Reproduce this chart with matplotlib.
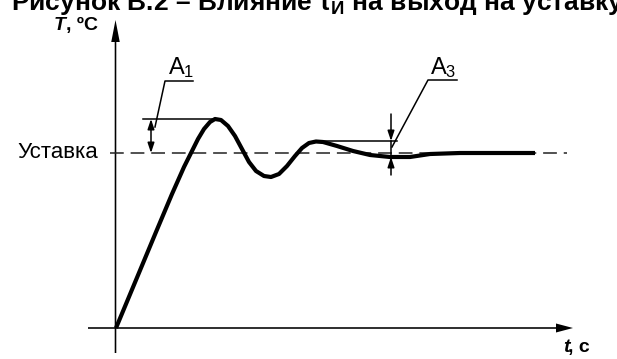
import matplotlib
matplotlib.use('Agg')
import matplotlib.pyplot as plt

plt.rcParams['font.family'] = ['Liberation Sans', 'DejaVu Sans']
plt.rcParams['mathtext.fontset'] = 'custom'
plt.rcParams['mathtext.rm'] = 'Liberation Sans'
plt.rcParams['mathtext.bf'] = 'Liberation Sans:bold'
plt.rcParams['mathtext.it'] = 'Liberation Sans:italic'

# transient response (time, temperature in arbitrary units)
t_vals = [0.0, 2.0, 4.0, 5.6, 6.8, 7.6, 8.2, 8.8, 9.4, 9.9, 10.5, 11.2,
          11.9, 12.6, 13.3, 14.0, 14.8, 15.5, 16.3, 17.1, 17.9, 18.6, 19.3,
          20.0, 20.7, 22.1, 23.7, 25.4, 27.4, 29.4, 31.4, 34.4, 41.9]
T_vals = [0.0, 4.8, 9.6, 13.4, 16.1, 17.7, 18.9, 19.9, 20.6, 20.9, 20.8, 20.2,
          19.2, 17.9, 16.6, 15.7, 15.2, 15.1, 15.4, 16.2, 17.2, 18.0, 18.5,
          18.65, 18.6, 18.2, 17.7, 17.3, 17.1, 17.1, 17.4, 17.5, 17.5]

setpoint = 17.5
peak1 = 20.9
peak2 = 18.7
dip2 = 17.1
t_peak1 = 9.9
t_peak2 = 20.0

fig = plt.figure(figsize=(6.17, 3.59), dpi=100)
ax = fig.add_axes([0, 0, 1, 1])
ax.set_xlim(-11.6, 50.1)
ax.set_ylim(-3.1, 32.8)
ax.axis('off')

# axes with arrows
ax.arrow(-0.05, -2.5, 0, 33.3, width=0.16, head_width=0.85, head_length=2.2,
         length_includes_head=True, color='black', lw=0)
ax.arrow(-2.8, 0, 48.5, 0, width=0.16, head_width=0.9, head_length=1.7,
         length_includes_head=True, color='black', lw=0)

# setpoint
ax.plot([-0.6, 45.1], [setpoint, setpoint], color='#222222', lw=1.1,
        linestyle=(0, (9, 4.5)))
ax.text(-1.8, setpoint, 'Уставка', fontsize=16, ha='right', va='center')

# curve
ax.plot(t_vals, T_vals, color='black', lw=3.0, solid_capstyle='butt',
        solid_joinstyle='round')

# A1 dimension
ax.plot([2.7, t_peak1], [peak1, peak1], color='black', lw=1.1)
ax.annotate('', xy=(3.5, peak1), xytext=(3.5, setpoint),
            arrowprops=dict(arrowstyle='<|-|>,head_length=0.6,head_width=0.2',
                            color='black', lw=1.1, shrinkA=0, shrinkB=0))
ax.plot([3.9, 4.9, 7.7], [20.1, 24.7, 24.7], color='black', lw=1.1)
ax.text(5.2, 25.4, 'A$_1$', fontsize=17, ha='left', va='baseline')

# A3 dimension
ax.plot([t_peak2, 28.1], [peak2, peak2], color='black', lw=1.1)
ax.annotate('', xy=(27.5, peak2), xytext=(27.5, 21.4),
            arrowprops=dict(arrowstyle='-|>,head_length=0.6,head_width=0.2',
                            color='black', lw=1.1, shrinkA=0, shrinkB=0))
ax.annotate('', xy=(27.5, dip2), xytext=(27.5, 15.3),
            arrowprops=dict(arrowstyle='-|>,head_length=0.6,head_width=0.2',
                            color='black', lw=1.1, shrinkA=0, shrinkB=0))
ax.plot([27.5, 27.5], [dip2, peak2], color='black', lw=1.1)
ax.plot([27.6, 31.2, 34.1], [18.1, 24.8, 24.8], color='black', lw=1.1)
ax.text(31.4, 25.4, 'A$_3$', fontsize=17, ha='left', va='baseline')

# axis labels
ax.text(-6.2, 29.8, 'T', fontsize=14, fontweight='bold', style='italic',
        ha='left', va='baseline')
ax.text(-4.95, 29.8, ', ºC', fontsize=14, fontweight='bold',
        ha='left', va='baseline')
ax.text(44.7, -2.4, 't', fontsize=14, fontweight='bold', style='italic',
        ha='left', va='baseline')
ax.text(45.25, -2.4, ', c', fontsize=14, fontweight='bold',
        ha='left', va='baseline')

# title (cut at the top in the source)
ax.text(-10.5, 31.8, r'Рисунок В.2 – Влияние $\mathbf{\tau_И}$ на выход на уставку',
        fontsize=19, fontweight='bold', ha='left', va='baseline')

fig.savefig('out.png', dpi=100)
